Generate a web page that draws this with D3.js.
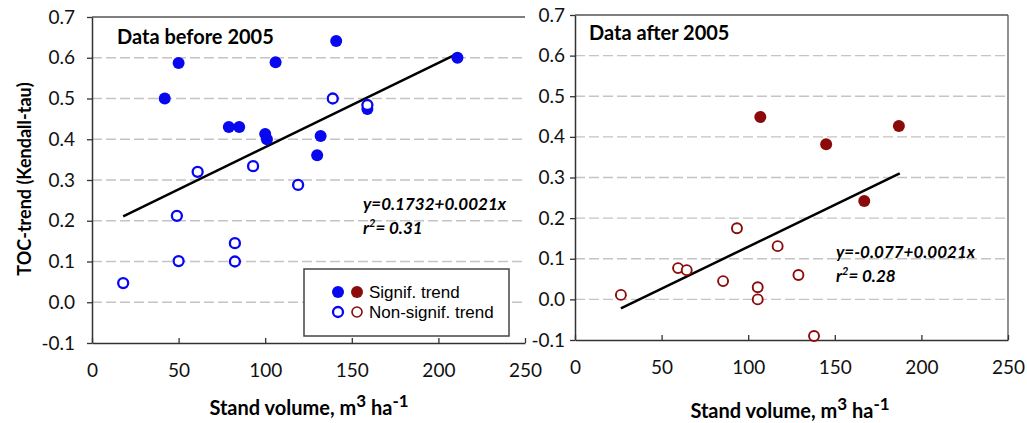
<!DOCTYPE html>
<html>
<head>
<meta charset="utf-8">
<script src="https://cdn.jsdelivr.net/npm/d3@7"></script>
<style>
  html, body { margin: 0; padding: 0; background: #fff; }
  svg { display: block; }
  .tick text { font-family: Lato, "Open Sans", sans-serif; font-size: 19px; fill: #111; }
</style>
</head>
<body>
<svg id="chart" width="1027" height="423"></svg>
<script>
// Data before 2005 (stand volume, Kendall-tau)
const beforeSignif = [
    [42, 0.50], [50, 0.587], [79, 0.43], [85, 0.43], [100, 0.413], [101, 0.40],
    [106, 0.589], [141, 0.641], [211, 0.60], [132, 0.408], [130, 0.361], [159, 0.474]
];
const beforeNonSignif = [
    [139, 0.50], [159, 0.484], [119, 0.288], [93, 0.334], [61, 0.32],
    [49, 0.212], [50, 0.101], [82.5, 0.145], [82.5, 0.10], [18, 0.047]
];
const beforeTrend = [[18, 0.211], [211, 0.61]];

// Data after 2005
const afterSignif = [[107, 0.449], [145, 0.382], [187, 0.427], [167, 0.242]];
const afterNonSignif = [
    [26.5, 0.011], [59.5, 0.077], [64.5, 0.072], [85.5, 0.045], [93.5, 0.175],
    [105.5, 0.03], [105.5, 0.0], [117, 0.131], [129, 0.06], [138, -0.09]
];
const afterTrend = [[26.5, -0.022], [187.5, 0.31]];

const xTicks = [0, 50, 100, 150, 200, 250];
const yTicks = [-0.1, 0, 0.1, 0.2, 0.3, 0.4, 0.5, 0.6, 0.7];

const BLUE = '#0707f0';
const RED = '#8b0a0a';
const FONT = 'Lato, "Open Sans", sans-serif';

const svg = d3.select('#chart');
// plain hyphen for negatives, like the original
const yFormat = d => d3.format('.1f')(d).replace('\u2212', '-');

function drawPanel(p) {
    const x = d3.scaleLinear().domain([0, 250]).range(p.xRange);
    const y = d3.scaleLinear().domain([-0.1, 0.7]).range(p.yRange);
    const g = svg.append('g');

    // dashed grid lines
    g.append('g')
        .selectAll('line')
        .data(yTicks.filter(t => t > -0.1 && t < 0.7))
        .enter()
        .append('line')
        .attr('x1', p.xRange[0]).attr('x2', p.xRange[1])
        .attr('y1', d => y(d)).attr('y2', d => y(d))
        .attr('stroke', '#c4c4c4')
        .attr('stroke-width', 1.3)
        .attr('stroke-dasharray', '10,4');

    // top border (and right border on second panel)
    g.append('line')
        .attr('x1', p.xRange[0]).attr('x2', p.xRange[1])
        .attr('y1', y(0.7)).attr('y2', y(0.7))
        .attr('stroke', '#555').attr('stroke-width', 1.3);
    if (p.rightBorder) {
        g.append('line')
            .attr('x1', p.xRange[1]).attr('x2', p.xRange[1])
            .attr('y1', y(0.7)).attr('y2', y(-0.1))
            .attr('stroke', '#555').attr('stroke-width', 1.3);
    }

    // axes
    const xAxis = g.append('g')
        .attr('transform', `translate(0, ${y(-0.1)})`)
        .call(d3.axisBottom(x).tickValues(xTicks).tickSizeInner(-5).tickSizeOuter(0).tickPadding(21));
    const yAxis = g.append('g')
        .attr('transform', `translate(${p.xRange[0]}, 0)`)
        .call(d3.axisLeft(y).tickValues(yTicks).tickFormat(yFormat).tickSizeInner(5).tickSizeOuter(0).tickPadding(p.yPad));
    [xAxis, yAxis].forEach(a => {
        a.select('.domain').attr('stroke', '#333').attr('stroke-width', 1.5);
        a.selectAll('.tick line').attr('stroke', '#333').attr('stroke-width', 1.3);
    });
    xAxis.selectAll('.tick text').attr('dy', '0.71em');

    // trend line
    g.append('path')
        .datum(p.trend)
        .attr('d', d3.line().x(d => x(d[0])).y(d => y(d[1])))
        .attr('stroke', '#000')
        .attr('stroke-width', 2.5)
        .attr('fill', 'none');

    // points
    g.append('g').selectAll('circle')
        .data(p.signif)
        .enter()
        .append('circle')
        .attr('cx', d => x(d[0])).attr('cy', d => y(d[1]))
        .attr('r', 6)
        .attr('fill', p.color);
    g.append('g').selectAll('circle')
        .data(p.nonSignif)
        .enter()
        .append('circle')
        .attr('cx', d => x(d[0])).attr('cy', d => y(d[1]))
        .attr('r', 5)
        .attr('fill', '#fff')
        .attr('stroke', p.color)
        .attr('stroke-width', p.openStroke);

    // title
    g.append('text')
        .attr('x', p.titlePos[0]).attr('y', p.titlePos[1])
        .style('font-family', FONT)
        .style('font-weight', 'bold')
        .style('font-size', '20px')
        .text(p.title);

    // equation
    const eq = g.append('g')
        .style('font-family', FONT)
        .style('font-weight', 'bold')
        .style('font-style', 'italic')
        .style('font-size', '17px');
    eq.append('text')
        .attr('x', p.eqPos[0]).attr('y', p.eqPos[1])
        .text(p.equation);
    const r2 = eq.append('text')
        .attr('x', p.eqPos[0]).attr('y', p.eqPos[1] + 24);
    r2.append('tspan').text('r');
    r2.append('tspan').attr('dy', -7).style('font-size', '11px').text('2');
    r2.append('tspan').attr('dy', 7).text('= ' + p.r2);

    // x label
    const xl = g.append('text')
        .attr('x', p.xLabelPos[0]).attr('y', p.xLabelPos[1])
        .attr('text-anchor', 'middle')
        .style('font-family', FONT)
        .style('font-weight', 'bold')
        .style('font-size', '20px');
    xl.append('tspan').text('Stand volume, m');
    xl.append('tspan').attr('dy', -8).style('font-size', '17px').text('3');
    xl.append('tspan').attr('dy', 8).text(' ha');
    xl.append('tspan').attr('dy', -8).style('font-size', '17px').text('-1');
}

drawPanel({
    xRange: [92, 525], yRange: [343, 17], yPad: 12,
    signif: beforeSignif, nonSignif: beforeNonSignif, trend: beforeTrend,
    color: BLUE, openStroke: 2.3, rightBorder: false,
    title: 'Data before 2005', titlePos: [117, 44],
    equation: 'y=0.1732+0.0021x', r2: '0.31', eqPos: [363, 210],
    xLabelPos: [309, 415]
});

drawPanel({
    xRange: [575, 1008], yRange: [340, 15], yPad: 5,
    signif: afterSignif, nonSignif: afterNonSignif, trend: afterTrend,
    color: RED, openStroke: 1.9, rightBorder: true,
    title: 'Data after 2005', titlePos: [589, 40],
    equation: 'y=-0.077+0.0021x', r2: '0.28', eqPos: [836, 258],
    xLabelPos: [790, 418]
});

// y-axis label
svg.append('text')
    .attr('transform', 'translate(31, 179) rotate(-90)')
    .attr('text-anchor', 'middle')
    .style('font-family', FONT)
    .style('font-weight', 'bold')
    .style('font-size', '18px')
    .text('TOC-trend (Kendall-tau)');

// legend
const legend = svg.append('g');
legend.append('rect')
    .attr('x', 304).attr('y', 269).attr('width', 205).attr('height', 67)
    .attr('fill', '#fff').attr('stroke', '#444').attr('stroke-width', 1.5);
const legendItems = [
    { label: 'Signif. trend', filled: true },
    { label: 'Non-signif. trend', filled: false }
];
legendItems.forEach((item, i) => {
    const cy = 292 + i * 20;
    [BLUE, RED].forEach((c, j) => {
        legend.append('circle')
            .attr('cx', 338 + j * 19).attr('cy', cy)
            .attr('r', item.filled ? 6 : 5)
            .attr('fill', item.filled ? c : '#fff')
            .attr('stroke', item.filled ? 'none' : c)
            .attr('stroke-width', j === 0 ? 2.3 : 1.6);
    });
    legend.append('text')
        .attr('x', 369).attr('y', cy + 6)
        .style('font-family', '"Liberation Sans", Arial, sans-serif')
        .style('font-size', '17px')
        .text(item.label);
});
</script>
</body>
</html>
